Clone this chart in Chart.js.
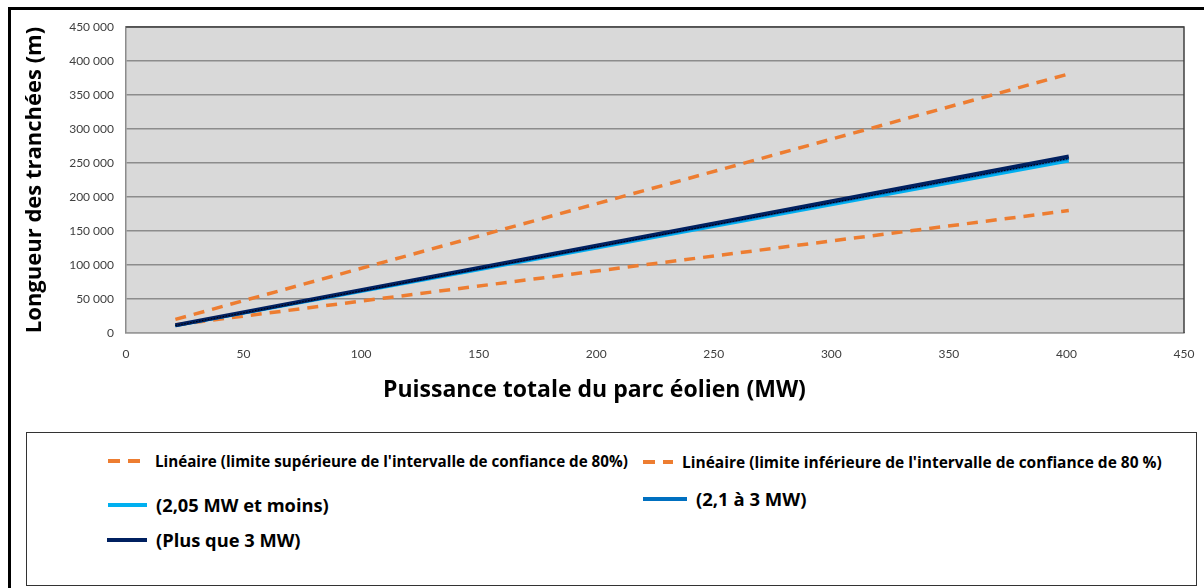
<!DOCTYPE html>
<html lang="fr">
<head>
<meta charset="utf-8">
<script src="https://cdn.jsdelivr.net/npm/chart.js@4.4.1/dist/chart.umd.min.js"></script>
<style>
  body { margin: 0; background: #fff; width: 1204px; height: 588px; overflow: hidden; position: relative; }
  #frame { position: absolute; left: 8px; top: 7px; width: 1300px; height: 700px;
           border-left: 3px solid #000; border-top: 3px solid #000; }
  #myChart { position: absolute; left: 0; top: 0; }
  #xTitle { position: absolute; left: 383px; top: 372px; font: bold 23px "Open Sans", sans-serif; color: #000; white-space: nowrap; }
  #legend { position: absolute; left: 26px; top: 432px; width: 1169px; height: 152px; border: 1.5px solid #333; }
  .item { position: absolute; display: flex; align-items: center; white-space: nowrap;
          font-family: "Open Sans", sans-serif; font-weight: bold; color: #000; }
  .swatch { display: inline-block; height: 4px; margin-right: 9px; }
</style>
</head>
<body>
<div id="frame"></div>
<canvas id="myChart" width="1204" height="420"></canvas>
<div id="xTitle">Puissance totale du parc éolien (MW)</div>
<div id="legend"></div>
<script>
// values
const mwEnds = [21, 401];
const upperBound = [20000, 381000];
const lowerBound = [12000, 180000];
const smallTurbines = [10500, 253000];
const midTurbines = [11000, 256500];
const largeTurbines = [11500, 259500];

const seriesNames = [
    "Linéaire (limite supérieure de l'intervalle de confiance de 80%)",
    "Linéaire (limite inférieure de l'intervalle de confiance de 80 %)",
    "(2,05 MW et moins)",
    "(2,1 à 3 MW)",
    "(Plus que 3 MW)"
];
const seriesValues = [upperBound, lowerBound, smallTurbines, midTurbines, largeTurbines];
const seriesColors = ["#ED7D31", "#ED7D31", "#00B0F0", "#0070C0", "#002060"];
const seriesDashed = [true, true, false, false, false];

function toPoints(vals) {
    return vals.map((v, i) => ({ x: mwEnds[i], y: v }));
}

const datasets = seriesValues.map((vals, i) => ({
    label: seriesNames[i],
    data: toPoints(vals),
    borderColor: seriesColors[i],
    borderWidth: seriesDashed[i] ? 3.5 : (i === 4 ? 4 : 3),
    borderDash: seriesDashed[i] ? [11, 8] : [],
    pointRadius: 0,
    showLine: true,
    fill: false,
    order: 10 - i
}));

// thin dotted trend line drawn over the blue ones
datasets.push({
    label: "trend",
    data: toPoints(midTurbines),
    borderColor: "#000",
    borderWidth: 1,
    borderDash: [1.5, 1.5],
    pointRadius: 0,
    showLine: true,
    order: 0
});

const plotFrame = {
    id: "plotFrame",
    beforeDraw(chart) {
        const { ctx, chartArea: a } = chart;
        ctx.save();
        ctx.fillStyle = "#D9D9D9";
        ctx.fillRect(a.left, a.top, a.right - a.left, a.bottom - a.top);
        ctx.restore();
    },
    afterDatasetsDraw(chart) {
        const { ctx, chartArea: a } = chart;
        ctx.save();
        ctx.strokeStyle = "#404040";
        ctx.lineWidth = 1.5;
        ctx.beginPath();
        ctx.moveTo(a.left, a.top);
        ctx.lineTo(a.right, a.top);
        ctx.lineTo(a.right, a.bottom);
        ctx.stroke();
        ctx.restore();
    }
};

function spaced(v) {
    return String(v).replace(/\B(?=(\d{3})+(?!\d))/g, " ");
}

const ctx = document.getElementById("myChart").getContext("2d");
new Chart(ctx, {
    type: "scatter",
    data: { datasets: datasets },
    options: {
        responsive: false,
        animation: false,
        layout: { padding: { left: 20, right: 20, top: 27, bottom: 0 } },
        plugins: { legend: { display: false }, tooltip: { enabled: false } },
        scales: {
            x: {
                type: "linear",
                min: 0,
                max: 450,
                afterFit(scale) { scale.height = 87; },
                ticks: { stepSize: 50, color: "#404040", padding: 6,
                         font: { family: "Lato", size: 12 } },
                grid: { display: false },
                border: { color: "#9a9a9a", width: 1.5 }
            },
            y: {
                min: 0,
                max: 450000,
                afterFit(scale) { scale.width = 106; },
                ticks: { stepSize: 50000, color: "#404040", padding: 12,
                         font: { family: "Lato", size: 12 },
                         callback: v => spaced(v) },
                grid: { color: "#8C8C8C", lineWidth: 1.5, drawTicks: false },
                border: { color: "#8C8C8C", width: 1.5 },
                title: { display: true, text: "Longueur des tranchées (m)", color: "#000",
                         font: { family: "Open Sans", size: 22, weight: "bold" }, padding: 2 }
            }
        }
    },
    plugins: [plotFrame]
});

// legend, laid out like the original two-column box
const legendPlaces = [
    { left: 81, top: 18, w: 38, size: 15.2 },
    { left: 616, top: 18, w: 30, size: 15.5 },
    { left: 81, top: 59, w: 39, size: 18.3 },
    { left: 616, top: 53, w: 44, size: 18.5 },
    { left: 80, top: 94, w: 40, size: 18.3 }
];
const legendBox = document.getElementById("legend");
seriesNames.forEach((name, i) => {
    const p = legendPlaces[i];
    const item = document.createElement("div");
    item.className = "item";
    item.style.left = p.left + "px";
    item.style.top = p.top + "px";
    item.style.fontSize = p.size + "px";
    const sw = document.createElement("span");
    sw.className = "swatch";
    sw.style.width = p.w + "px";
    if (seriesDashed[i]) {
        sw.style.background = "repeating-linear-gradient(90deg," + seriesColors[i] + " 0 12px, transparent 12px 20px)";
    } else {
        sw.style.background = seriesColors[i];
    }
    const txt = document.createElement("span");
    txt.textContent = name;
    item.appendChild(sw);
    item.appendChild(txt);
    legendBox.appendChild(item);
});
</script>
</body>
</html>
